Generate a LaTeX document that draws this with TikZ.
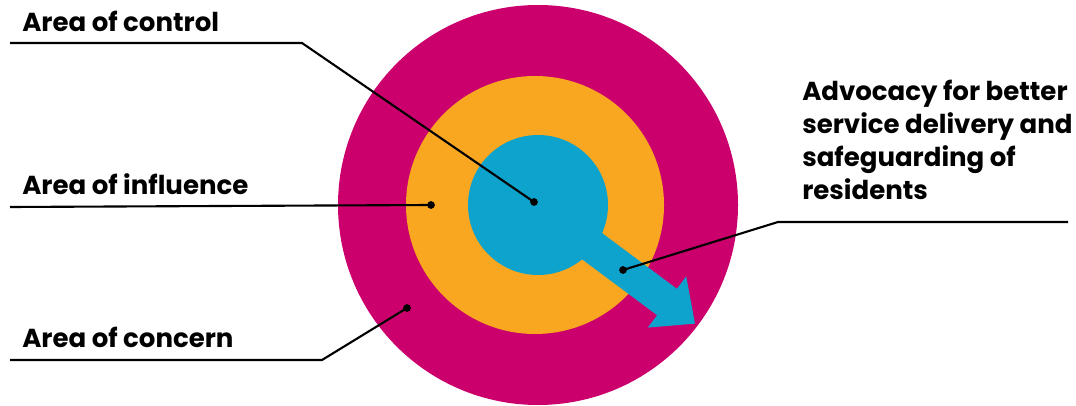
\documentclass[tikz,border=0pt]{standalone}
\usepackage{fontspec}
\setmainfont{Poppins}
\usepackage{tikz}
\usetikzlibrary{positioning}
\definecolor{concern}{RGB}{204,0,108}
\definecolor{influence}{RGB}{249,166,33}
\definecolor{control}{RGB}{14,163,204}
\tikzset{
  leader/.style   = {line width=1.5pt, black},
  leader dot/.style= {circle, fill=black, inner sep=0pt, minimum size=5.5pt},
  arealabel/.style= {font=\bfseries\fontsize{18.5}{23.5}\selectfont, anchor=base west,
                     inner sep=0pt, align=left},
}

\begin{document}
\begin{tikzpicture}[x=0.025cm,y=-0.025cm]
  \useasboundingbox (0,0) rectangle (1076,406);

  % rings
  \coordinate (C) at (538,205);
  \fill[concern]   (C) circle[radius=200];
  \fill[influence] (535,205) circle[radius=129];
  \fill[control]   (C) circle[radius=70];
  % blue arrow out of the core
  \fill[control] (547.9,192.8) -- (676.9,288.8) -- (686.2,276.4) -- (695,323.6)
                 -- (647.8,327.6) -- (657.1,315.2) -- (528.1,219.2) -- cycle;

  % labels (base of the last line)
  \node[arealabel] (ctrl) at (22,32)  {Area of control};
  \node[arealabel] (infl) at (22,195) {Area of influence};
  \node[arealabel] (conc) at (22,347) {Area of concern};
  \node[arealabel] (advo) at (802,200)
    {Advocacy for better\\service delivery and\\safeguarding of\\residents};

  % leader lines
  \node[leader dot] (dctrl) at (534,202) {};
  \node[leader dot] (dinfl) at (431,205) {};
  \node[leader dot] (dconc) at (407,308) {};
  \node[leader dot] (dadvo) at (623,270) {};
  \coordinate (ctrl0) at (10,43);   \coordinate (ctrl1) at (302,43);
  \coordinate (infl0) at (10,207);
  \coordinate (conc0) at (10,360);  \coordinate (conc1) at (322,360);
  \coordinate (advo0) at (1068,222); \coordinate (advo1) at (778,222);
  \draw[leader] (ctrl0) -- (ctrl1) -- (dctrl.center);
  \draw[leader] (infl0) -- (dinfl.center);
  \draw[leader] (conc0) -- (conc1) -- (dconc.center);
  \draw[leader] (advo0) -- (advo1) -- (dadvo.center);
\end{tikzpicture}
\end{document}
